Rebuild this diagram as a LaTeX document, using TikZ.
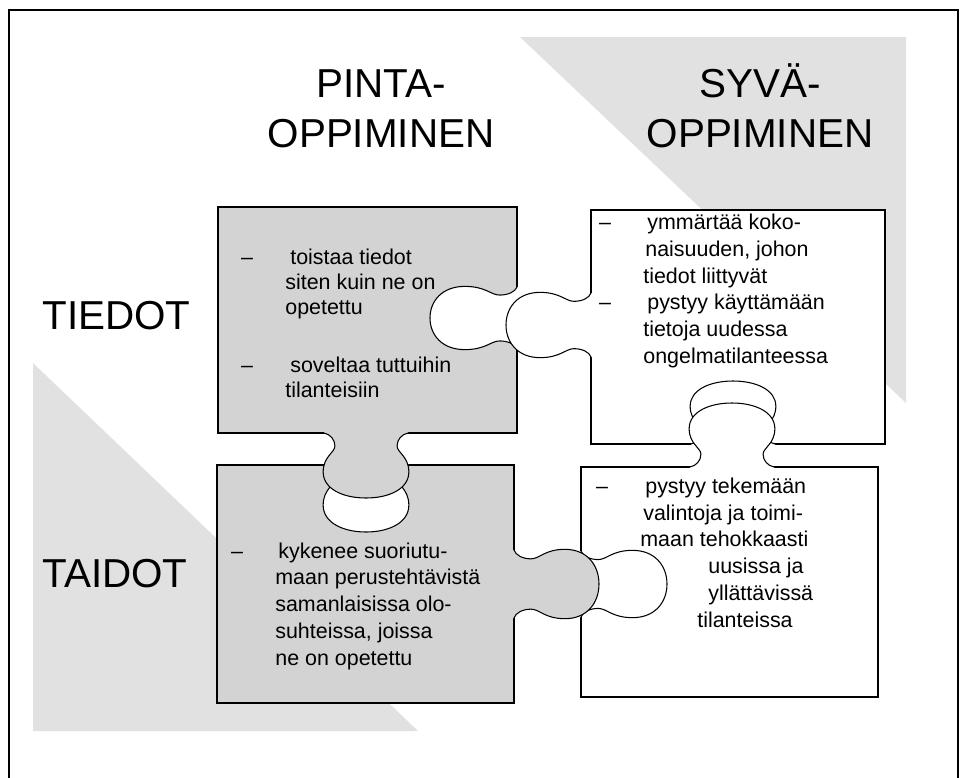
\documentclass[tikz,border=0pt]{standalone}
\usepackage{fontspec}
\setmainfont{Liberation Sans}
\usetikzlibrary{positioning}

\definecolor{piecegray}{RGB}{211,211,211}
\definecolor{backgray}{RGB}{225,225,225}

\tikzset{
  piece/.style={draw=black, line width=0.6pt},
  heading/.style={font=\fontsize{23pt}{28.3pt}\selectfont, align=center, anchor=base, inner sep=0pt},
  rowlabel/.style={font=\fontsize{23pt}{28.3pt}\selectfont, anchor=base west, inner sep=0pt},
  bullet/.style={font=\fontsize{12.2pt}{15pt}\selectfont, anchor=base, inner sep=0pt},
  itemtext/.style={font=\fontsize{12.2pt}{15.2pt}\selectfont, align=left, anchor=base west, inner sep=0pt},
  pics/knob/.style args={#1/#2/#3}{code={
    \begin{scope}[xscale=#1, yscale=#2]
      \fill[#3] (-1,-0.04) -- (-1,0) .. controls (-0.85,0.02) and (-0.74,0.1) .. (-0.74,0.2)
        .. controls (-0.74,0.3) and (-1.02,0.36) .. (-1.02,0.6)
        .. controls (-1.02,0.86) and (-0.55,1) .. (0,1)
        .. controls (0.55,1) and (1.02,0.86) .. (1.02,0.6)
        .. controls (1.02,0.36) and (0.74,0.3) .. (0.74,0.2)
        .. controls (0.74,0.1) and (0.85,0.02) .. (1,0) -- (1,-0.04) -- cycle;
      \draw[line width=0.6pt] (-1,0) .. controls (-0.85,0.02) and (-0.74,0.1) .. (-0.74,0.2)
        .. controls (-0.74,0.3) and (-1.02,0.36) .. (-1.02,0.6)
        .. controls (-1.02,0.86) and (-0.55,1) .. (0,1)
        .. controls (0.55,1) and (1.02,0.86) .. (1.02,0.6)
        .. controls (1.02,0.36) and (0.74,0.3) .. (0.74,0.2)
        .. controls (0.74,0.1) and (0.85,0.02) .. (1,0);
    \end{scope}
  }},
}

\begin{document}
\begin{tikzpicture}[x=0.02cm, y=-0.02cm]
    \useasboundingbox (0,0) rectangle (968,778);

    % frame and background triangles
    \draw[line width=1.1pt] (9,778) -- (9,10) -- (958,10) -- (958,778);
    \fill[backgray] (520,37) -- (906,37) -- (906,403) -- cycle;
    \fill[backgray] (33,363) -- (418,731) -- (33,731) -- cycle;

    % puzzle pieces
    \draw[piece, fill=piecegray] (218,207) rectangle (517,433);
    \draw[piece, fill=piecegray] (217,465) rectangle (514,703);
    \draw[piece, fill=white] (591,210) rectangle (885,444);
    \draw[piece, fill=white] (581,467) rectangle (878,697);

    % holes
    \pic[rotate=-90] at (517,318) {knob=31/87/white};
    \pic at (366,465) {knob=42/67/white};
    \pic[rotate=180] at (733,444) {knob=42/63/white};
    \pic[rotate=90] at (581,584) {knob=33/86/white};

    % knobs
    \pic at (366,433) {knob=42/65/piecegray};
    \pic[rotate=90] at (514,584) {knob=34/85/piecegray};
    \pic[rotate=-90] at (591,325) {knob=32/85/white};
    \pic[rotate=180] at (732,467) {knob=42/64/white};

    % headings (base = last line)
    \node[heading] (pinta) at (381,147) {PINTA-\\OPPIMINEN};
    \node[heading] (syva) at (760,147) {SYVÄ-\\OPPIMINEN};
    \node[rowlabel] (tiedot) at (42,329) {TIEDOT};
    \node[rowlabel] (taidot) at (42,587) {TAIDOT};

    % texts
    \node[bullet] (tl-d1) at (247,264) {–};
    \node[itemtext, font=\fontsize{12.2pt}{14.2pt}\selectfont] (tl-t1) at (285,314)
        {\hspace*{0.1cm}toistaa tiedot\\siten kuin ne on\\opetettu};
    \node[bullet] (tl-d2) at (247,372) {–};
    \node[itemtext, font=\fontsize{12.2pt}{14.2pt}\selectfont] (tl-t2) at (285,397)
        {\hspace*{0.1cm}soveltaa tuttuihin\\tilanteisiin};

    \node[bullet] (tr-d1) at (605,229) {–};
    \node[itemtext] (tr-t1) at (643,283)
        {\hspace*{0.08cm}ymmärtää koko-\\\hspace*{0.04cm}naisuuden, johon\\tiedot liittyvät};
    \node[bullet] (tr-d2) at (605,309) {–};
    \node[itemtext] (tr-t2) at (643,363)
        {\hspace*{0.08cm}pystyy käyttämään\\tietoja uudessa\\ongelmatilanteessa};

    \node[bullet] (bl-d1) at (237,558) {–};
    \node[itemtext] (bl-t1) at (275,665)
        {\hspace*{0.06cm}kykenee suoriutu-\\maan perustehtävistä\\samanlaisissa olo-\\suhteissa, joissa\\ne on opetettu};

    \node[bullet] (br-d1) at (602,493) {–};
    \node[itemtext] (br-t1) at (640,627)
        {\hspace*{0.1cm}pystyy tekemään\\\hspace*{0.06cm}valintoja ja toimi-\\maan tehokkaasti\\\hspace*{1.36cm}uusissa ja\\\hspace*{1.36cm}yllättävissä\\\hspace*{1.14cm}tilanteissa};
\end{tikzpicture}
\end{document}
